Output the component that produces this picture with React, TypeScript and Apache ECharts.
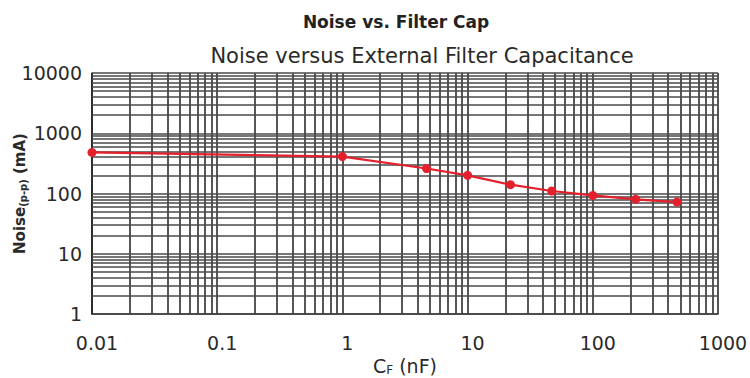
import React, { useEffect, useRef } from "react";
import * as echarts from "echarts";

const capNF = [0.01, 1, 4.7, 10, 22, 47, 100, 220, 470];
const noiseMA = [480, 410, 260, 200, 140, 110, 93, 80, 72];
const xDecades = [0.01, 0.1, 1, 10, 100];
const yDecades = [1, 10, 100, 1000];
const mults = [1, 2, 3, 4, 5, 6, 7, 8, 9];

const FONT = "DejaVu Sans";

export default function App() {
  const ref = useRef<HTMLDivElement>(null);
  useEffect(() => {
    if (!ref.current) return;
    const chart = echarts.init(ref.current, undefined, { renderer: "svg" });
    const vStyle = { color: "#1f1f1f", width: 1.5, type: "solid" };
    const hStyle = { color: "#4a4a4a", width: 1.7, type: "solid" };
    const gridLines: any[] = [];
    xDecades.forEach((d) =>
      mults.forEach((m) => gridLines.push({ xAxis: +(d * m).toPrecision(3), lineStyle: vStyle }))
    );
    gridLines.push({ xAxis: 1000, lineStyle: vStyle });
    yDecades.forEach((d) => mults.forEach((m) => gridLines.push({ yAxis: d * m, lineStyle: hStyle })));
    gridLines.push({ yAxis: 10000, lineStyle: hStyle });

    const fmt = (v: number) => String(+v.toPrecision(3));

    chart.setOption({
      animation: false,
      backgroundColor: "#fff",
      textStyle: { fontFamily: FONT },
      title: [
        {
          text: "Noise vs. Filter Cap",
          left: 391,
          textAlign: "center",
          top: 8,
          textStyle: { fontSize: 17, fontWeight: "bold", color: "#222", fontFamily: FONT },
        },
        {
          text: "Noise versus External Filter Capacitance",
          left: 417,
          textAlign: "center",
          top: 40,
          textStyle: { fontSize: 21, fontWeight: "normal", color: "#2a2a2a", fontFamily: FONT },
        },
      ],
      grid: { left: 92, right: 32, top: 73, bottom: 64, containLabel: false, outerBoundsMode: "none" },
      xAxis: {
        type: "log",
        logBase: 10,
        min: 0.01,
        max: 1000,
        name: "{a|C}{s|F}{a| (nF)}",
        nameLocation: "middle",
        nameGap: 42,
        nameTextStyle: {
          rich: {
            a: { fontSize: 19, lineHeight: 20, color: "#2a2a2a", fontFamily: FONT },
            s: { fontSize: 12, lineHeight: 12, color: "#2a2a2a", verticalAlign: "bottom", padding: [3, 0, 0, 0], fontFamily: FONT },
          },
        },
        axisLine: { show: true, lineStyle: { color: "#222", width: 1.5 } },
        axisTick: { show: false },
        splitLine: { show: false },
        axisLabel: {
          fontSize: 19,
          color: "#2a2a2a",
          margin: 19,
          padding: [0, 0, 0, 10],
          formatter: fmt,
        },
      },
      yAxis: {
        type: "log",
        logBase: 10,
        min: 1,
        max: 10000,
        name: "{a|Noise}{s|(p-p)}{a| (mA)}",
        nameLocation: "middle",
        nameGap: 64,
        nameMoveOverlap: false,
        nameRotate: 90,
        nameTextStyle: {
          rich: {
            a: { fontSize: 15, lineHeight: 16, fontWeight: "bold", color: "#2a2a2a", fontFamily: FONT },
            s: { fontSize: 10, lineHeight: 10, fontWeight: "bold", color: "#2a2a2a", verticalAlign: "bottom", padding: [3, 0, 0, 0], fontFamily: FONT },
          },
        },
        axisLine: { show: true, lineStyle: { color: "#222", width: 1.5 } },
        axisTick: { show: false },
        splitLine: { show: false },
        axisLabel: { fontSize: 19, color: "#2a2a2a", margin: 10, padding: [0, 0, 5, 0], formatter: fmt },
      },
      series: [
        {
          type: "line",
          data: [],
          markLine: {
            silent: true,
            symbol: ["none", "none"],
            label: { show: false },
            data: gridLines,
          },
        },
        {
          type: "line",
          data: capNF.map((c, i) => [c, noiseMA[i]]),
          symbol: "circle",
          symbolSize: 9,
          lineStyle: { color: "#e3202b", width: 2.2 },
          itemStyle: { color: "#e3202b" },
          z: 5,
        },
      ],
    });
    return () => chart.dispose();
  }, []);
  return <div ref={ref} style={{ width: 750, height: 378, position: "absolute", left: 0, top: 0 }} />;
}
